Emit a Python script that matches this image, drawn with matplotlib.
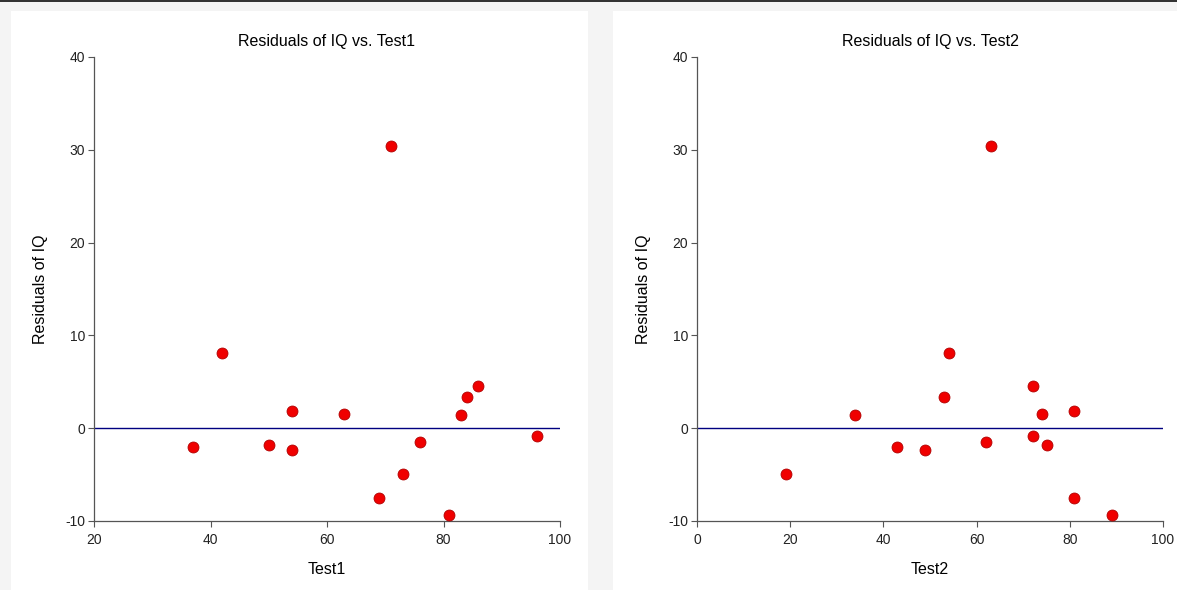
import matplotlib.pyplot as plt
from matplotlib.patches import Rectangle

# residuals of IQ, shared by both panels
residuals = [-2.0, 8.1, -1.8, 1.8, -2.3, 1.5, -7.5, 30.4, -4.9, -1.5, -9.35, 1.4, 3.4, 4.6, -0.8]
test1 = [37, 42, 50, 54, 54, 63, 69, 71, 73, 76, 81, 83, 84, 86, 96]
test2 = [43, 54, 75, 81, 49, 74, 81, 63, 19, 62, 89, 34, 53, 72, 72]

panels = [
    ('Test1', test1, (20, 100), [20, 40, 60, 80, 100]),
    ('Test2', test2, (0, 100), [0, 20, 40, 60, 80, 100]),
]
yticks = [-10, 0, 10, 20, 30, 40]

plt.rcParams['font.family'] = ['Liberation Sans', 'DejaVu Sans']
plt.rcParams['axes.unicode_minus'] = False
fig = plt.figure(figsize=(11.77, 5.9), dpi=100, facecolor='#f4f4f4')
W, H = 1177.0, 590.0

# white panel backgrounds and top rule
for x0, x1 in [(11, 588), (613, 1177)]:
    fig.patches.append(Rectangle((x0 / W, 0), (x1 - x0) / W, 1 - 11 / H,
                                 transform=fig.transFigure, facecolor='white',
                                 edgecolor='none', zorder=-10))
fig.patches.append(Rectangle((0, 1 - 2 / H), 1, 2 / H, transform=fig.transFigure,
                             facecolor='#333333', edgecolor='none', zorder=-10))

axes_px = [(94, 560), (697, 1163)]
for (name, xs, xlim, xticks), (px0, px1) in zip(panels, axes_px):
    ax = fig.add_axes([px0 / W, 1 - 521 / H, (px1 - px0) / W, (521 - 57) / H])
    ax.set_facecolor('none')
    ax.axhline(0, color='#000080', lw=1, zorder=1)
    ax.scatter(xs, residuals, s=62, c='#f00000', edgecolors='#b00000',
               linewidths=0.6, zorder=3, clip_on=False)
    ax.set_xlim(xlim)
    ax.set_ylim(-10, 40)
    ax.set_xticks(xticks)
    ax.set_yticks(yticks)
    for s in ['top', 'right']:
        ax.spines[s].set_visible(False)
    for s in ['left', 'bottom']:
        ax.spines[s].set_color('#555555')
        ax.spines[s].set_linewidth(0.9)
    ax.tick_params(length=4.5, width=0.8, color='#555555', labelsize=10,
                   labelcolor='#222222')
    ax.tick_params(axis='x', pad=4)
    ax.tick_params(axis='y', pad=2)
    ax.set_title('Residuals of IQ vs. ' + name, fontsize=11.5, pad=8)
    ax.set_xlabel(name, fontsize=11.5, labelpad=11)
    ax.set_ylabel('Residuals of IQ', fontsize=11.5, labelpad=12)

fig.savefig('out.png', dpi=100, facecolor=fig.get_facecolor())
